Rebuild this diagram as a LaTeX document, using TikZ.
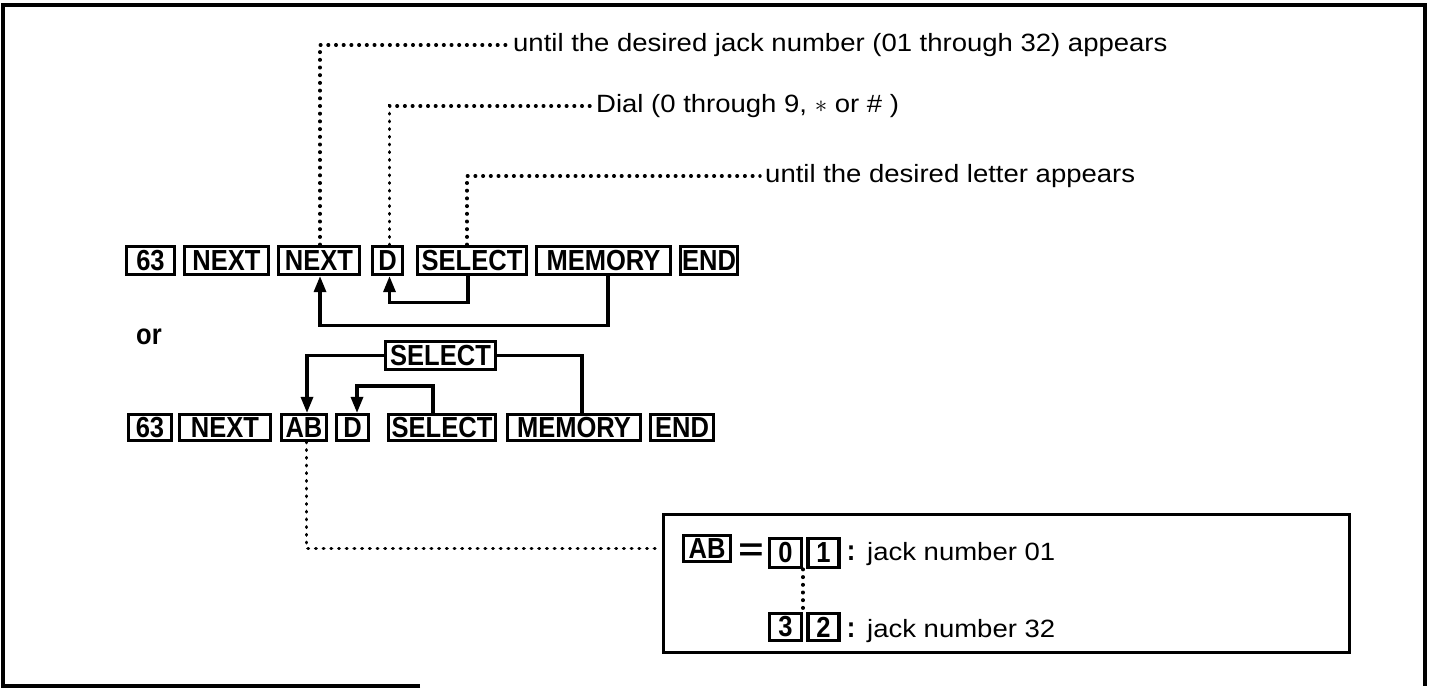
\documentclass[tikz,border=0pt]{standalone}
\usepackage{fontspec}
\setmainfont{Liberation Sans}[FakeStretch=1.1]
\newfontfamily\keyfont{Liberation Sans}[FakeStretch=0.88]
\newfontfamily\eqfont{Liberation Sans}[FakeStretch=1.35]
\usetikzlibrary{arrows.meta}
\tikzset{
  key/.style={draw, line width=3.2pt, inner sep=0pt, font=\keyfont\bfseries\fontsize{29}{34}\selectfont},
  keytxt/.style={inner sep=0pt, font=\keyfont\bfseries\fontsize{29}{34}\selectfont},
  lbl/.style={inner sep=0pt, anchor=west, font=\fontsize{25}{30}\selectfont},
  conn/.style={line width=3.2pt},
  arr/.style={conn, -{Triangle[length=16pt,width=12pt]}},
  dots/.style={line width=3.4pt, dash pattern=on 0.6pt off 7.1pt, line cap=round},
  frame/.style={line width=3.2pt}
}
\begin{document}
\begin{tikzpicture}[x=1pt,y=-1pt]
\useasboundingbox (0,0) rectangle (1429,691);
% outer frame
\draw[frame] (420,686) -- (3,686) -- (3,5) -- (1425,5) -- (1425,686);
% row 1
\node[key, minimum width=48, minimum height=28] (a1) at (150.5,260.5) {63};
\node[key, minimum width=84, minimum height=28] (a2) at (226.5,260.5) {NEXT};
\node[key, minimum width=81, minimum height=28] (a3) at (319,260.5) {NEXT};
\node[key, minimum width=30, minimum height=28] (a4) at (387.5,260.5) {D};
\node[key, minimum width=109, minimum height=28] (a5) at (472,260.5) {SELECT};
\node[key, minimum width=134, minimum height=28] (a6) at (603.5,260.5) {MEMORY};
\node[key, minimum width=57, minimum height=28] (a7) at (709,260.5) {END};
% leader texts
\node[lbl] (t1) at (513,45) {until the desired jack number (01 through 32) appears};
\node[lbl] (t2) at (596,106) {Dial (0 through 9, $\ast$ or \# )};
\node[lbl] (t3) at (765,176) {until the desired letter appears};
\draw[dots] ([xshift=1]a3.north) |- ([xshift=-5]t1.west);
\draw[dots] ([xshift=2]a4.north) |- ([xshift=-5]t2.west);
\draw[dots] ([xshift=-5]a5.north) |- ([xshift=-5]t3.west);
% row 1 loops
\draw[arr] ([xshift=4.5]a6.south) -- ++(0,49) -| ([xshift=1]a3.south);
\draw[arr] ([xshift=-4]a5.south) -- ++(0,26) -| ([xshift=2]a4.south);
% or
\node[keytxt] (or) at (149,337) {or};
% row 2
\node[key, minimum width=110, minimum height=28] (ts) at (440.5,355.5) {SELECT};
\node[key, minimum width=43, minimum height=26] (b1) at (150,427.5) {63};
\node[key, minimum width=91, minimum height=26] (b2) at (225,427.5) {NEXT};
\node[key, minimum width=45, minimum height=26] (b3) at (304,427.5) {AB};
\node[key, minimum width=32, minimum height=26] (b4) at (352.5,427.5) {D};
\node[key, minimum width=107, minimum height=26] (b5) at (442,427.5) {SELECT};
\node[key, minimum width=133, minimum height=26] (b6) at (574,427.5) {MEMORY};
\node[key, minimum width=63, minimum height=26] (b7) at (682,427.5) {END};
\draw[arr] (ts.west) -| ([xshift=3]b3.north);
\draw[conn] (ts.east) -| ([xshift=8]b6.north);
\draw[arr] ([xshift=-9]b5.north) -- ++(0,-27) -| ([xshift=4.5]b4.north);
% inner box
\node[draw, line width=3.2pt, inner sep=0pt, minimum width=686, minimum height=138] (inner) at (1006.5,583.5) {};
\node[key, minimum width=47, minimum height=26] (i1) at (707,548.5) {AB};
\node[inner sep=0pt, font=\eqfont\bfseries\fontsize{32}{36}\selectfont] (ieq) at (751,552) {=};
\node[key, minimum width=32, minimum height=29] (i3) at (785.5,553) {0};
\node[key, minimum width=31, minimum height=29] (i4) at (823.5,553) {1};
\node[keytxt, anchor=base] (ic1) at (851,560) {:};
\node[lbl, anchor=base west] (ij1) at (867,560) {jack number 01};
\node[key, minimum width=32, minimum height=27] (i5) at (785.5,627) {3};
\node[key, minimum width=31, minimum height=27] (i6) at (823.5,627) {2};
\node[keytxt, anchor=base] (ic2) at (851,637) {:};
\node[lbl, anchor=base west] (ij2) at (867,637) {jack number 32};
\draw[dots] ([xshift=-3.5]i4.south west) -- ([xshift=-3.5]i6.north west);
\draw[dots] ([xshift=2.5]b3.south) |- (inner.west |- i1.west);
\end{tikzpicture}
\end{document}
